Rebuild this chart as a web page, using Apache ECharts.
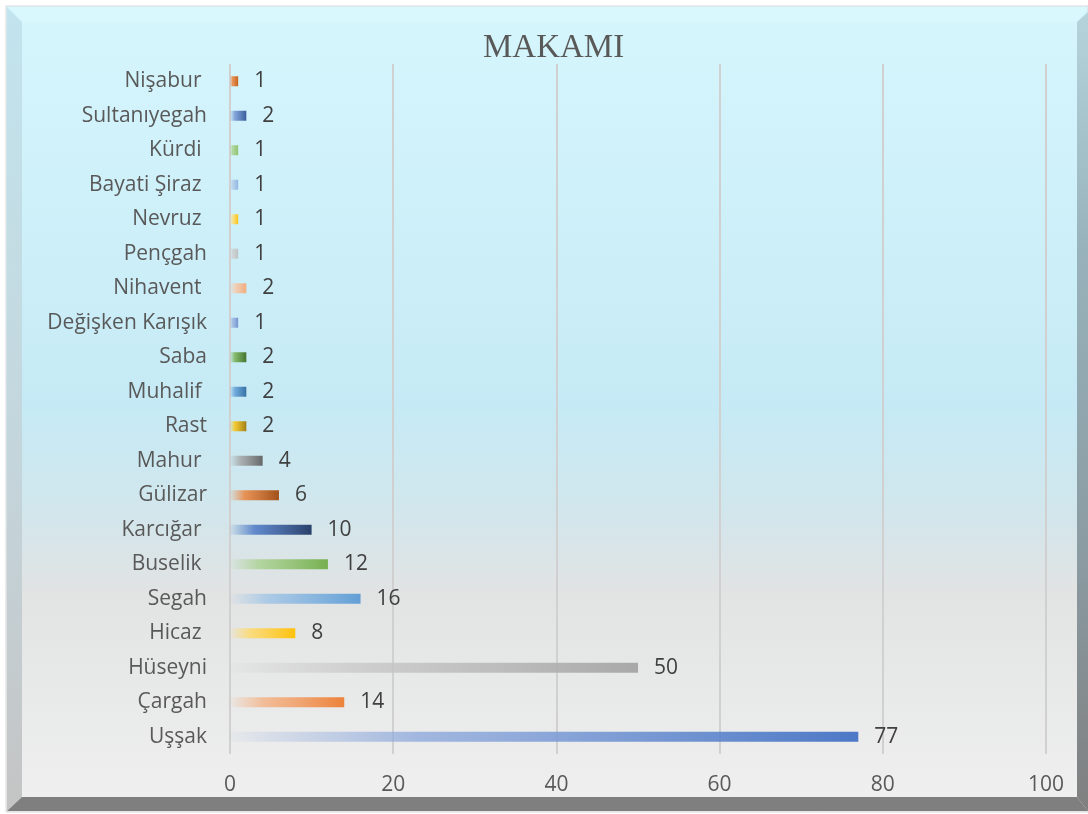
<!DOCTYPE html>
<html>
<head>
<meta charset="utf-8">
<script src="https://cdn.jsdelivr.net/npm/echarts@6/dist/echarts.min.js"></script>
<style>html,body{margin:0;padding:0;background:#fff;}#c{width:1088px;height:814px;}</style>
</head>
<body>
<div id="c"></div>
<script>
var categories = ['Nişabur ', 'Sultanıyegah', 'Kürdi ', 'Bayati Şiraz ', 'Nevruz ', 'Pençgah', 'Nihavent ', 'Değişken Karışık', 'Saba', 'Muhalif ', 'Rast', 'Mahur ', 'Gülizar', 'Karcığar ', 'Buselik ', 'Segah', 'Hicaz ', 'Hüseyni', 'Çargah', 'Uşşak'];
var values = [1, 2, 1, 1, 1, 1, 2, 1, 2, 2, 2, 4, 6, 10, 12, 16, 8, 50, 14, 77];
var xTicks = [0, 20, 40, 60, 80, 100];
var palette = [
  ['#ed7d31', '#c55a11'], ['#6f8fd0', '#2f5597'], ['#a9d18e', '#8cc168'], ['#b4cde8', '#8db3e2'],
  ['#ffe080', '#ffc000'], ['#d0d0d0', '#bfbfbf'], ['#f8cbad', '#f4a875'], ['#9db5e0', '#6f8fd0'],
  ['#70ad47', '#3d6b25'], ['#5b9bd5', '#2e6aa0'], ['#ffc000', '#9c7a0c'], ['#a5a5a5', '#606060'],
  ['#ed7d31', '#9e480e'], ['#4472c4', '#203864'], ['#a9d18e', '#70ad47'], ['#9dc3e6', '#5b9bd5'],
  ['#ffd966', '#ffc000'], ['#c9c9c9', '#a5a5a5'], ['#f4b183', '#ed7d31'], ['#8faadc', '#4472c4']
];

function hexA(h, a) {
  var r = parseInt(h.substr(1, 2), 16), g = parseInt(h.substr(3, 2), 16), b = parseInt(h.substr(5, 2), 16);
  return 'rgba(' + r + ',' + g + ',' + b + ',' + a + ')';
}

var data = values.map(function (v, i) {
  var p = palette[i];
  return {
    value: v,
    itemStyle: {
      color: new echarts.graphic.LinearGradient(0, 0, 1, 0, [
        { offset: 0, color: hexA(p[0], 0.05) },
        { offset: 0.3, color: hexA(p[0], 0.8) },
        { offset: 1, color: hexA(p[1], 0.95) }
      ])
    }
  };
});

var chart = echarts.init(document.getElementById('c'), null, { renderer: 'canvas' });
chart.setOption({
  animation: false,
  backgroundColor: '#ffffff',
  graphic: [
    { type: 'rect', z: -20, shape: { x: 6, y: 6, width: 1082, height: 806 },
      style: { fill: new echarts.graphic.LinearGradient(0, 0, 0, 1, [
        { offset: 0, color: '#d6f6fd' }, { offset: 0.5, color: '#c6eaf5' },
        { offset: 0.63, color: '#d2e6ec' }, { offset: 0.73, color: '#e2e3e3' },
        { offset: 1, color: '#f0f0f0' }]), stroke: '#d9d9d9', lineWidth: 1 } },
    { type: 'polygon', z: -19, shape: { points: [[7, 7], [22, 22], [22, 797], [7, 811]] },
      style: { fill: new echarts.graphic.LinearGradient(0, 0, 0, 1, [
        { offset: 0, color: '#c2e4ee' }, { offset: 0.6, color: '#c4d4da' }, { offset: 1, color: '#c4c4c4' }]) } },
    { type: 'polygon', z: -19, shape: { points: [[7, 7], [1088, 7], [1077, 22], [22, 22]] },
      style: { fill: 'rgba(220,250,255,0.5)' } },
    { type: 'polygon', z: -19, shape: { points: [[1077, 22], [1088, 12], [1088, 811], [1077, 797]] },
      style: { fill: new echarts.graphic.LinearGradient(0, 0, 0, 1, [
        { offset: 0, color: '#b4d4dc' }, { offset: 0.3, color: '#98b2bb' }, { offset: 0.7, color: '#8a9aa0' }, { offset: 1, color: '#7f7f7f' }]) } },
    { type: 'polygon', z: -19, shape: { points: [[7, 811], [22, 797], [1077, 797], [1088, 811]] },
      style: { fill: '#7f7f7f' } }
  ],
  title: {
    text: 'MAKAMI', left: 478, top: 27,
    textStyle: { fontFamily: 'Liberation Serif', fontSize: 33, fontWeight: 'normal', color: '#595959' }
  },
  grid: { left: 230, right: 42, top: 64, bottom: 60, containLabel: false },
  xAxis: {
    type: 'value', min: 0, max: 100, interval: 20,
    axisLine: { show: false }, axisTick: { show: false },
    splitLine: { show: true, lineStyle: { color: '#d0d0d0', width: 2 } },
    axisLabel: { margin: 21, fontSize: 21, color: '#595959', fontFamily: 'Open Sans',
      formatter: function (v) { return xTicks.indexOf(v) >= 0 ? String(v) : ''; } }
  },
  yAxis: {
    type: 'category', data: categories, inverse: true,
    axisLine: { show: false }, axisTick: { show: false }, splitLine: { show: false },
    axisLabel: { margin: 23, fontSize: 21, color: '#595959', fontFamily: 'Open Sans', padding: [3, 0, 0, 0] }
  },
  series: [{
    type: 'bar', data: data, barWidth: 10,
    label: { show: true, position: 'right', distance: 16, fontSize: 21, color: '#404040', fontFamily: 'Open Sans', padding: [3, 0, 0, 0] }
  }]
});
</script>
</body>
</html>
